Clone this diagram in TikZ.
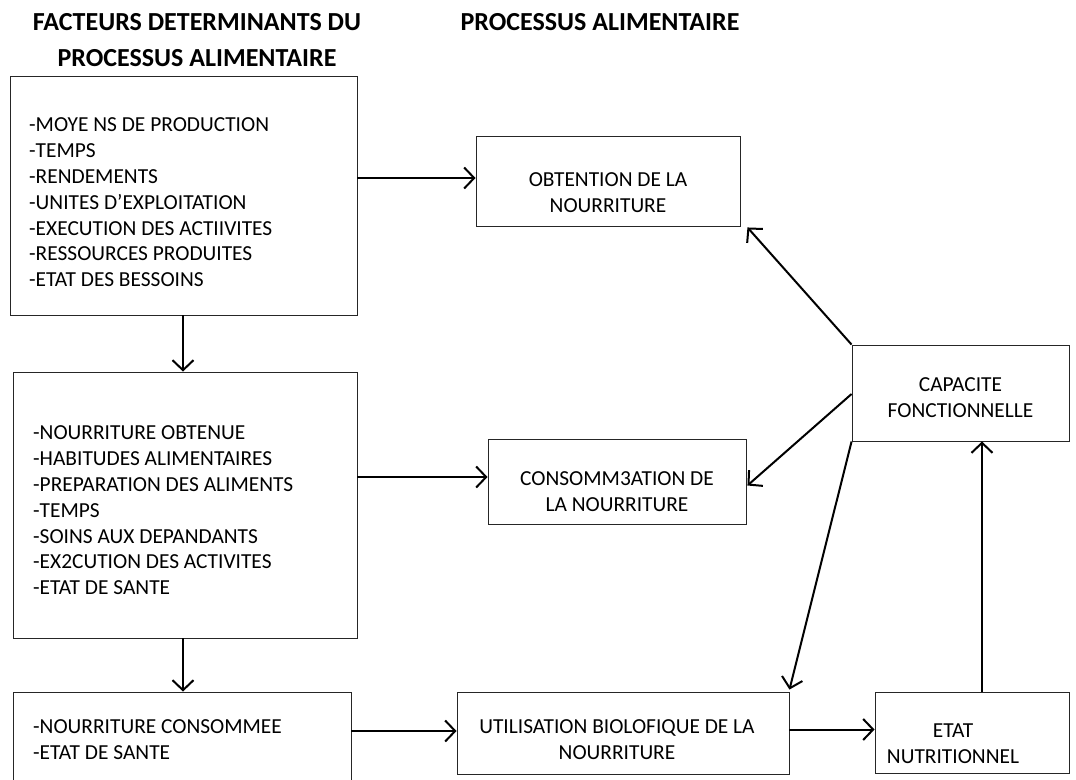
\documentclass[tikz,border=0pt]{standalone}
\usepackage{fontspec}
\setmainfont{Carlito}
\usetikzlibrary{arrows.meta}
\begin{document}
\begin{tikzpicture}[x=1pt,y=-1pt,
  frame/.style={draw=black!85, line width=0.9pt, rectangle, inner sep=0pt},
  body/.style={inner sep=0pt, font=\fontsize{21.4}{25.8}\selectfont},
  listtext/.style={body, align=left, anchor=west},
  boxtext/.style={body, align=center},
  heading/.style={inner sep=0pt, align=center, font=\fontsize{26}{36}\selectfont\bfseries},
  arr/.style={line width=2pt, -{Straight Barb[length=10pt,width=21pt,line width=2pt]}}]
\useasboundingbox (0,0) rectangle (1076,779);

% headings
\node[heading] (h1) at (197,40) {FACTEURS DETERMINANTS DU\\PROCESSUS ALIMENTAIRE};
\node[heading] (h2) at (600,22) {PROCESSUS ALIMENTAIRE};

% left column: determining factors
\node[frame, minimum width=347pt, minimum height=239pt] (A) at (183.5,195.5) {};
\node[listtext] (At) at (29,202.5) {-MOYE NS DE PRODUCTION\\-TEMPS\\-RENDEMENTS\\-UNITES D’EXPLOITATION\\-EXECUTION DES ACTIIVITES\\-RESSOURCES PRODUITES\\-ETAT DES BESSOINS};

\node[frame, minimum width=344pt, minimum height=266pt] (B) at (185,505) {};
\node[listtext] (Bt) at (33,510.5) {-NOURRITURE OBTENUE\\-HABITUDES ALIMENTAIRES\\-PREPARATION DES ALIMENTS\\-TEMPS\\-SOINS AUX DEPANDANTS\\-EX2CUTION DES ACTIVITES\\-ETAT DE SANTE};

\node[frame, minimum width=338pt, minimum height=98pt] (C) at (182,741) {};
\node[listtext] (Ct) at (33,740) {-NOURRITURE CONSOMMEE\\-ETAT DE SANTE};

% food process
\node[frame, minimum width=264pt, minimum height=90pt] (Obt) at (608,181) {};
\node[boxtext] (Obtt) at (608,192.5) {OBTENTION DE LA\\NOURRITURE};

\node[frame, minimum width=258pt, minimum height=85pt] (Cons) at (617,481.5) {};
\node[boxtext] (Const) at (617,491.5) {CONSOMM3ATION DE\\LA NOURRITURE};

\node[frame, minimum width=217pt, minimum height=96pt] (Cap) at (960.5,393) {};
\node[boxtext] (Capt) at (960.5,397.5) {CAPACITE\\FONCTIONNELLE};

\node[frame, minimum width=332pt, minimum height=82pt] (Util) at (623,733) {};
\node[boxtext] (Utilt) at (617,740) {UTILISATION BIOLOFIQUE DE LA\\NOURRITURE};

\node[frame, minimum width=194pt, minimum height=81pt] (Etat) at (972,732.5) {};
\node[boxtext] (Etatt) at (953,743.5) {ETAT\\NUTRITIONNEL};

% connectors
\coordinate (objin) at ([yshift=3pt]Obt.west);
\draw[arr] (A.east |- objin) -- (objin);
\draw[arr] (A.south -| 183,0) -- (B.north -| 183,0);
\coordinate (consin) at ([yshift=4.5pt]Cons.west);
\draw[arr] (B.east |- consin) -- (consin);
\draw[arr] (B.south -| 183,0) -- (C.north -| 183,0);
\coordinate (utilin) at ([yshift=2pt]Util.west);
\draw[arr] (C.east |- utilin) -- (utilin);
\coordinate (etatin) at ([yshift=3pt]Etat.west);
\draw[arr] (Util.east |- etatin) -- (etatin);
\coordinate (etatup) at ([xshift=10pt]Etat.north);
\draw[arr] (etatup) -- (Cap.south -| etatup);
\draw[arr] (Cap.north west) -- ([xshift=7pt,yshift=-1pt]Obt.south east);
\draw[arr] ([yshift=-1pt]Cap.west) -- ([xshift=1pt,yshift=-4pt]Cons.east);
\draw[arr] (Cap.south west) -- ([yshift=2pt]Util.north east);
\end{tikzpicture}
\end{document}
